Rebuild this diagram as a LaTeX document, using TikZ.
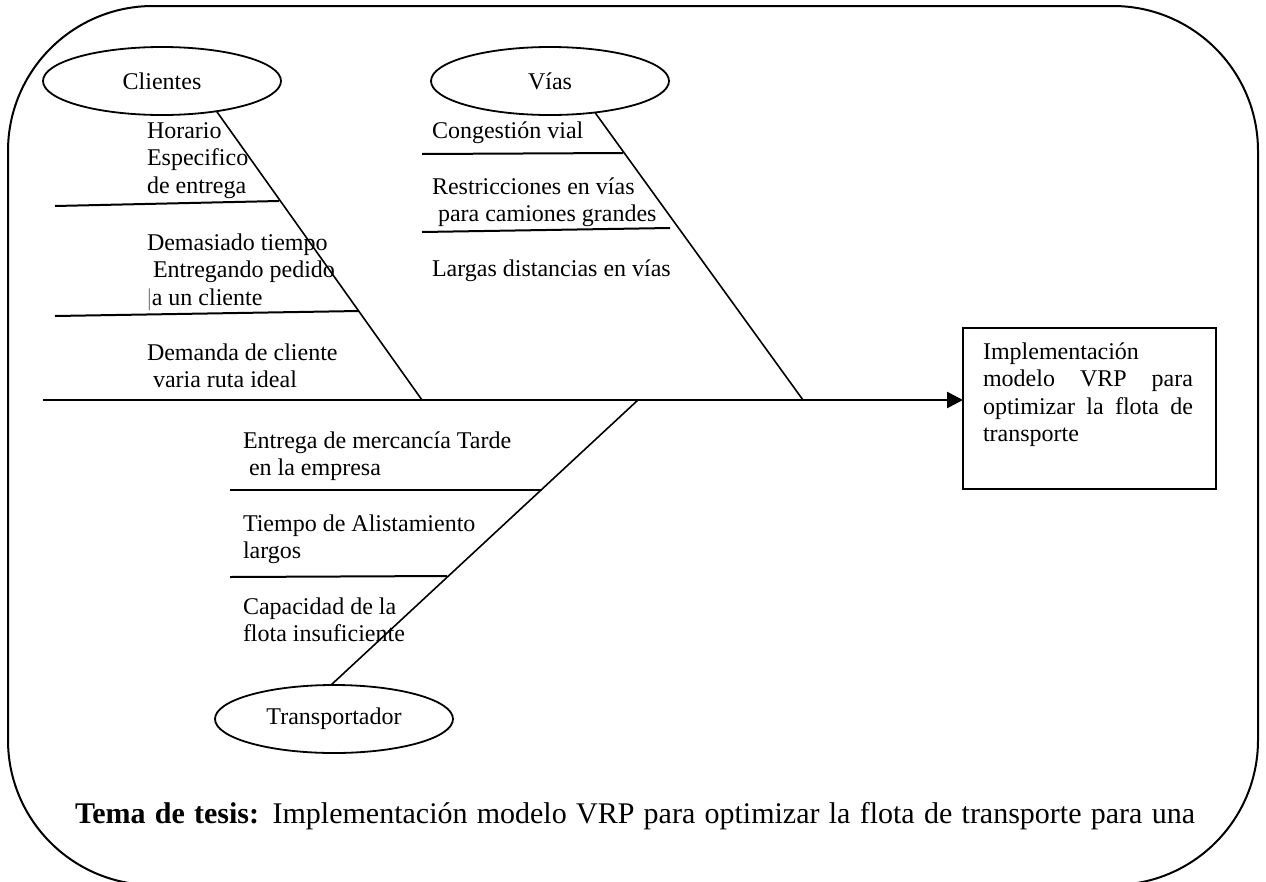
\documentclass[tikz,border=0pt]{standalone}
\usepackage{fontspec}
\setmainfont{Liberation Serif}
\usetikzlibrary{shapes.geometric,arrows.meta}

% stacked lines, baseline of the node = baseline of the first line
\newcommand{\linestack}[1]{\vtop{\fontsize{24}{27.5}\selectfont #1}}

\begin{document}
\begin{tikzpicture}[x=1pt,y=-1pt,
  every node/.style={inner sep=0pt,outer sep=0pt},
  lbl/.style={anchor=base west,font=\fontsize{24}{27.5}\selectfont},
  cause/.style={draw,ellipse,line width=1.8pt,minimum width=238pt,minimum height=68pt,
    font=\fontsize{24}{27.5}\selectfont},
  bone/.style={line width=1.6pt},
  rib/.style={line width=2pt},
  spine/.style={line width=2.6pt,-{Triangle[length=16pt,width=16pt]}},
  goalbox/.style={draw,line width=1.8pt,minimum width=253pt,minimum height=161pt,anchor=north west},
  frame/.style={line width=2pt,rounded corners=145pt},
]
\useasboundingbox (0,0) rectangle (1266,881);

% outer rounded frame (its lower edge runs just past the page)
\draw[frame] (8,6) rectangle (1258,885);

% category ellipses
\node[cause] (cli)   at (162,81)  {Clientes};
\node[cause] (vias)  at (550,81)  {Vías};
\node[cause] (trans) at (334,719) {Transportador};

% effect box
\node[goalbox] (goal) at (963,328) {};
\node[lbl] (goaltext) at (983,359) {\linestack{%
  \hbox{Implementación}
  \hbox{\makebox[210pt][s]{modelo VRP para}}
  \hbox{\makebox[210pt][s]{optimizar la flota de}}
  \hbox{transporte}}};

% spine
\coordinate (sp0) at (43,400);
\draw[spine] (sp0) -- (sp0 -| goal.west);

% joints of the main bones on the spine
\coordinate (jc) at (422,400);
\coordinate (jv) at (803,400);
\coordinate (jt) at (638,400);

\draw[bone] (cli.-29)  -- (jc);
\draw[bone] (vias.-35) -- (jv);
\draw[bone] (trans.95) -- (jt);

% ribs: Clientes
\coordinate (c1a) at (55,206);  \coordinate (c1b) at (279,201);
\coordinate (c2a) at (55,316);  \coordinate (c2b) at (359,311);
\draw[rib] (c1a) -- (c1b);
\draw[rib] (c2a) -- (c2b);

% ribs: Vías
\coordinate (v1a) at (422,154); \coordinate (v1b) at (623,153);
\coordinate (v2a) at (422,232); \coordinate (v2b) at (670,228);
\draw[rib] (v1a) -- (v1b);
\draw[rib] (v2a) -- (v2b);

% ribs: Transportador
\coordinate (t1a) at (230,490); \coordinate (t1b) at (542,490);
\coordinate (t2a) at (230,577); \coordinate (t2b) at (447,576);
\draw[rib] (t1a) -- (t1b);
\draw[rib] (t2a) -- (t2b);

% causes: Clientes
\node[lbl] (c1t) at (147,138) {\linestack{\hbox{Horario}\hbox{Especifico}\hbox{de entrega}}};
\node[lbl] (c2t) at (147,250) {\linestack{\hbox{Demasiado tiempo}\hbox{\ Entregando pedido}\hbox{{\color{gray}|}a un cliente}}};
\node[lbl] (c3t) at (147,360) {\linestack{\hbox{Demanda de cliente}\hbox{\ varia ruta ideal}}};

% causes: Vías
\node[lbl] (v1t) at (432,138) {Congestión vial};
\node[lbl] (v2t) at (432,194) {\linestack{\hbox{Restricciones en vías}\hbox{\ para camiones grandes}}};
\node[lbl] (v3t) at (432,276) {Largas distancias en vías};

% causes: Transportador
\node[lbl] (t1t) at (243,448) {\linestack{\hbox{Entrega de mercancía Tarde}\hbox{\ en la empresa}}};
\node[lbl] (t2t) at (243,531) {\linestack{\hbox{Tiempo de Alistamiento}\hbox{largos}}};
\node[lbl] (t3t) at (243,614) {\linestack{\hbox{Capacidad de la}\hbox{flota insuficiente}}};

% thesis line
\node[anchor=base west,font=\fontsize{30}{36}\selectfont] (tema) at (75,823)
  {\makebox[1120pt][s]{\textbf{Tema de tesis:} Implementación modelo VRP para optimizar la flota de transporte para una}};
\end{tikzpicture}
\end{document}
